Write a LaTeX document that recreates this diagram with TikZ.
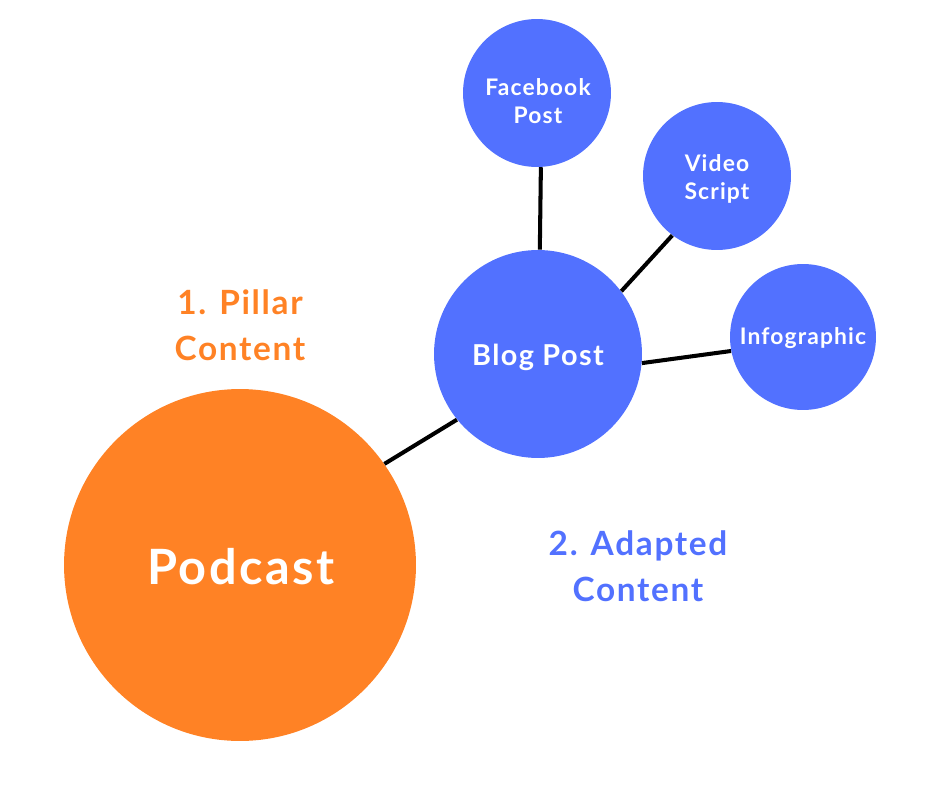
\documentclass[tikz,border=0pt]{standalone}
\usepackage{fontspec}
\setmainfont{Lato}[LetterSpace=5]
\definecolor{pillar}{HTML}{FF8225}
\definecolor{adapted}{HTML}{5271FF}
\tikzset{
  bubble/.style={circle, inner sep=0pt},
  bubbletext/.style={text=white, align=center, font=\bfseries},
  link/.style={line width=2.3pt, black},
  heading/.style={align=center, font=\bfseries\fontsize{19}{26}\selectfont}
}
\begin{document}
\begin{tikzpicture}[x=0.02cm, y=-0.02cm]
        \useasboundingbox (0,0) rectangle (940,788);

        % pillar content
        \node [bubble, fill=pillar, minimum size=7.04cm] (podcast) at (240,565) {};
        \node [bubbletext, font=\bfseries\fontsize{27.7}{32}\selectfont]
          (podcasttext) at (241,567) {Podcast};
        \node [heading, text=pillar] (pillarlabel) at (240,325) {1. Pillar\\Content};

        % adapted content
        \node [bubble, fill=adapted, minimum size=4.16cm] (blog) at (538,354) {};
        \node [bubbletext, font=\bfseries\fontsize{16.4}{19}\selectfont]
          (blogtext) at (538,357) {Blog Post};
        \node [bubble, fill=adapted, minimum size=2.96cm] (facebook) at (537,93) {};
        \node [bubbletext, font=\bfseries\fontsize{13}{16}\selectfont]
          (facebooktext) at (538,101) {Facebook\\Post};
        \node [bubble, fill=adapted, minimum size=2.96cm] (video) at (717,176) {};
        \node [bubbletext, font=\bfseries\fontsize{13}{16}\selectfont]
          (videotext) at (717,179) {Video\\Script};
        \node [bubble, fill=adapted, minimum size=2.92cm] (infographic) at (803,337) {};
        \node [bubbletext, font=\bfseries\fontsize{13}{16}\selectfont]
          (infographictext) at (803,338) {Infographic};
        \node [heading, text=adapted] (adaptedlabel) at (638,566) {2. Adapted\\Content};

        \draw [link] (podcast.35) -- (blog.219);
        \draw [link] (blog.89) -- (facebook.273);
        \draw [link] (blog.37) -- (video.233);
        \draw [link] (blog.-5) -- (infographic.191);
      \end{tikzpicture}
\end{document}
